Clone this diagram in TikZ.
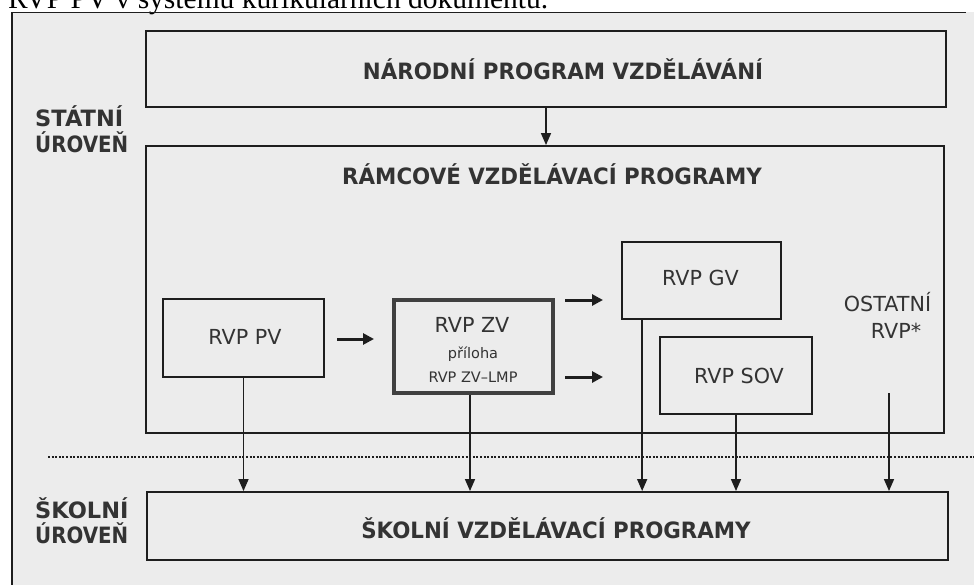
\documentclass[tikz,border=0pt]{standalone}
\usepackage{fontspec}
\setmainfont{DejaVu Sans}
\newfontfamily\seriffont{Liberation Serif}
\usetikzlibrary{arrows.meta}
\definecolor{ink}{HTML}{1E1E1E}
\definecolor{txt}{HTML}{333333}
\definecolor{bg}{HTML}{ECECEC}
\definecolor{zvline}{HTML}{404040}
\newcommand{\ttl}[1]{\scalebox{0.95}[1]{#1}}
\begin{document}
\begin{tikzpicture}[x=1pt,y=-1pt,
  box/.style={draw=ink, line width=1.7pt, inner sep=0pt},
  bigbox/.style={draw=ink, line width=1.9pt, inner sep=0pt},
  zvbox/.style={draw=zvline, line width=4pt, inner sep=0pt},
  title/.style={font=\bfseries\fontsize{22.5}{26}\selectfont, text=txt, anchor=base, inner sep=0pt},
  lbl/.style={font=\bfseries\fontsize{22.5}{26}\selectfont, text=txt, anchor=base west, inner sep=0pt},
  btxt/.style={font=\fontsize{20.7}{24}\selectfont, text=txt, anchor=base, inner sep=0pt},
  smalltxt/.style={font=\fontsize{14.5}{17}\selectfont, text=txt, anchor=base, inner sep=0pt},
  conn/.style={draw=ink, line width=1.5pt, -{Triangle[length=12pt,width=10pt]}},
  fatarrow/.style={draw=ink, line width=3pt, -{Triangle[length=11pt,width=11pt]}},
  dotline/.style={draw=ink, line width=2pt, dash pattern=on 2pt off 1.6pt},
]
\useasboundingbox (0,0) rectangle (974,585);
\clip (0,0) rectangle (974,585);
\fill[white] (0,0) rectangle (974,585);
\fill[bg] (12,12) rectangle (974,585);

% caption line (cut at the top)
\node[anchor=base west, inner sep=0pt, font=\seriffont\fontsize{29.5}{30}\selectfont, text=black] (cap) at (8,9) {RVP PV v systému kurikulárních dokumentů.};

% outer frame
\coordinate (fbl) at (12,586);
\coordinate (ftl) at (12,12.5);
\coordinate (ftr) at (966,12.5);
\draw[ink, line width=1.6pt] (fbl) -- (ftl) -- (ftr);

% level labels
\node[lbl] (st1) at (35,127) {STÁTNÍ};
\node[lbl] (st2) at (35,153) {\scalebox{0.88}[1]{ÚROVEŇ}};
\node[lbl] (sk1) at (35,518) {ŠKOLNÍ};
\node[lbl] (sk2) at (35,543) {\scalebox{0.88}[1]{ÚROVEŇ}};

% big boxes
\node[bigbox, minimum width=800pt, minimum height=76pt] (npv) at (546,69) {};
\node[title] (npvt) at (563,80) {\ttl{NÁRODNÍ PROGRAM VZDĚLÁVÁNÍ}};
\node[bigbox, minimum width=798pt, minimum height=287pt] (rvp) at (545,289.5) {};
\node[title] (rvpt) at (552,185) {\ttl{RÁMCOVÉ VZDĚLÁVACÍ PROGRAMY}};
\node[bigbox, minimum width=801pt, minimum height=68pt] (svp) at (547.5,526) {};
\node[title] (svpt) at (556,538) {\ttl{ŠKOLNÍ VZDĚLÁVACÍ PROGRAMY}};

% inner boxes
\node[box, minimum width=161pt, minimum height=78pt] (pv) at (243.5,338) {};
\node[btxt] (pvt) at (245,344) {RVP PV};
\node[zvbox, minimum width=159pt, minimum height=93pt] (zv) at (473.5,346.5) {};
\node[btxt] (zv1) at (472,332) {RVP ZV};
\node[smalltxt] (zv2) at (473,358) {příloha};
\node[smalltxt] (zv3) at (473,382) {RVP ZV–LMP};
\node[box, minimum width=159pt, minimum height=77pt] (gv) at (701.5,280.5) {};
\node[btxt] (gvt) at (700.5,285) {RVP GV};
\node[box, minimum width=152pt, minimum height=77pt] (sov) at (736,375.5) {};
\node[btxt] (sovt) at (739,383) {RVP SOV};
\node[btxt] (ost1) at (887.5,311) {OSTATNÍ};
\node[btxt] (ost2) at (896,338) {RVP*};

% dotted level divider
\coordinate (dl1) at (48,457);
\coordinate (dl2) at (976,457);
\draw[dotline] (dl1) -- (dl2);

% national -> framework
\draw[conn] (npv.south) -- (npv.south |- rvp.north);

% horizontal fat arrows
\coordinate (a1s) at (337,339);
\coordinate (a1e) at (374,339);
\coordinate (a2s) at (565,300);
\coordinate (a2e) at (603,300);
\coordinate (a3s) at (565,377);
\coordinate (a3e) at (603,377);
\draw[fatarrow] (a1s) -- (a1e);
\draw[fatarrow] (a2s) -- (a2e);
\draw[fatarrow] (a3s) -- (a3e);

% verticals to school level
\draw[conn] (pv.south) -- (pv.south |- svp.north);
\draw[conn] ([xshift=-3.5pt]zv.south) -- ([xshift=-3.5pt]zv.south |- svp.north);
\draw[conn] ([xshift=21pt]gv.south west) -- ([xshift=21pt]gv.south west |- svp.north);
\draw[conn] (sov.south) -- (sov.south |- svp.north);
\coordinate (ostb) at (889,393);
\draw[conn] (ostb) -- (ostb |- svp.north);
\end{tikzpicture}
\end{document}
